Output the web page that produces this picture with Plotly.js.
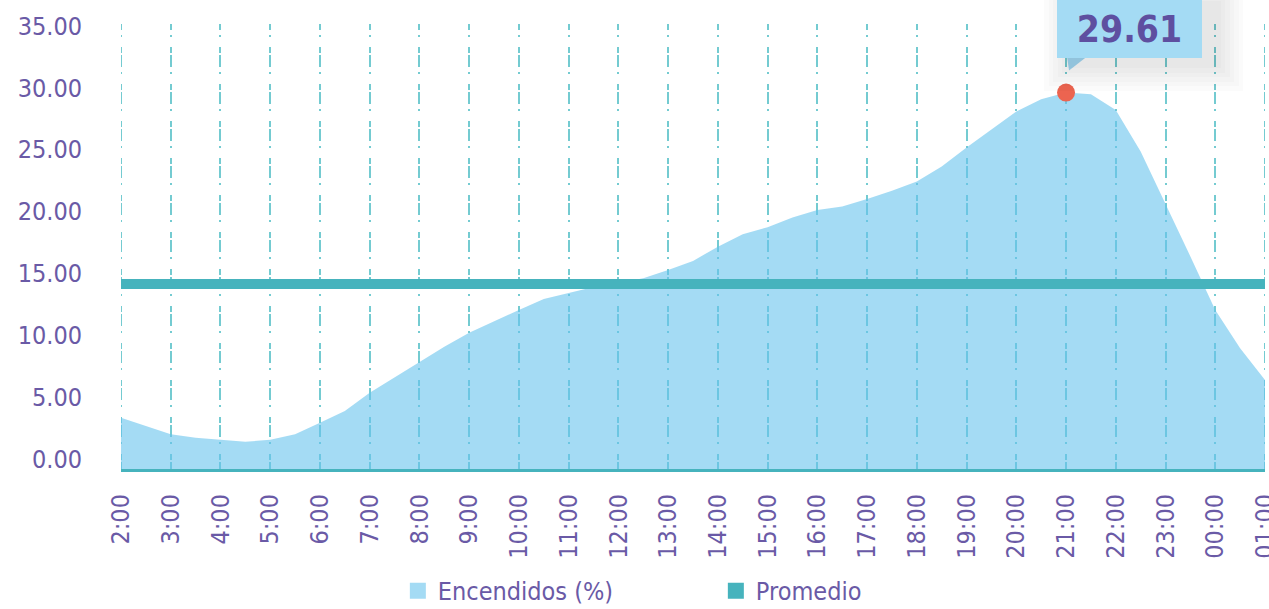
<!DOCTYPE html>
<html>
<head>
<meta charset="utf-8">
<script src="https://cdn.plot.ly/plotly-3.0.1.min.js"></script>
<style>html,body{margin:0;padding:0;background:#fff;}#chart{width:1269px;height:609px;}</style>
</head>
<body>
<div id="chart"></div>
<script>
// Half-hour time slots (x categories)
const timeSlots = ["2:00","2:30","3:00","3:30","4:00","4:30","5:00","5:30","6:00","6:30","7:00","7:30","8:00","8:30","9:00","9:30","10:00","10:30","11:00","11:30","12:00","12:30","13:00","13:30","14:00","14:30","15:00","15:30","16:00","16:30","17:00","17:30","18:00","18:30","19:00","19:30","20:00","20:30","21:00","21:30","22:00","22:30","23:00","23:30","00:00","00:30","01:00"];
// Hour tick labels
const hourTicks = ["2:00","3:00","4:00","5:00","6:00","7:00","8:00","9:00","10:00","11:00","12:00","13:00","14:00","15:00","16:00","17:00","18:00","19:00","20:00","21:00","22:00","23:00","00:00","01:00"];
// Encendidos (%)
const encendidos = [3.34,2.67,2.00,1.72,1.59,1.40,1.56,2.00,2.93,3.88,5.36,6.60,7.90,9.08,10.21,11.16,12.05,12.93,13.44,13.90,14.23,14.61,15.28,16.01,17.16,18.17,18.73,19.51,20.13,20.40,21.02,21.67,22.42,23.63,25.17,26.60,28.08,29.08,29.61,29.48,28.21,24.84,20.67,16.37,12.05,8.95,6.39];
// Promedio
const promedio = 14.15;
// Peak highlight
const peakSlot = "21:00";
const peakValue = 29.61;

const yRange = [-0.8, 35.15];
const purple = "#6a5aa6";
const FONT = "'DejaVu Sans Condensed', 'Liberation Sans Narrow', sans-serif";
const GRID_DASH = "6px,5px,2px,10px,6px,2px,6px,0px";
const GRID_COLOR = "#74cbd1";

const traces = [
  { x: timeSlots, y: timeSlots.map(() => yRange[0]), type: "scatter", mode: "lines",
    line: {width: 0, color: "rgba(0,0,0,0)"}, hoverinfo: "skip", showlegend: false },
  { x: timeSlots, y: encendidos, type: "scatter", mode: "lines", fill: "tonexty",
    fillcolor: "rgba(103,195,237,0.6)", line: {width: 0, color: "rgba(0,0,0,0)"},
    name: "Encendidos (%)", showlegend: false },
  { x: [timeSlots[0], timeSlots[timeSlots.length-1]], y: [promedio, promedio], type: "scatter",
    mode: "lines", line: {width: 10, color: "#46b3bd"}, name: "Promedio", showlegend: false },
  { x: [peakSlot], y: [peakValue], type: "scatter", mode: "markers",
    marker: {size: 18, color: "#ec6450"}, showlegend: false },
  { x: [null], y: [null], type: "scatter", mode: "markers", name: "Encendidos (%)",
    marker: {symbol: "square", size: 16, color: "#a4dbf4"} },
  { x: [null], y: [null], type: "scatter", mode: "markers", name: "Promedio",
    marker: {symbol: "square", size: 16, color: "#46b3bd"} }
];

const edgeGrid = [timeSlots[0], timeSlots[timeSlots.length - 1]].map(v => ({
  type: "line", xref: "x", yref: "paper", x0: v, x1: v, y0: 1, y1: 0,
  line: {color: GRID_COLOR, width: 2, dash: GRID_DASH}, layer: "below"
}));

// soft shadow behind the callout box
const BOX_W = 145, BOX_H = 58;
const shadow = [6, 5, 4, 3, 2, 1].map(i => ({
  x: peakSlot, y: peakValue, xref: "x", yref: "y", text: " ", showarrow: false,
  xanchor: "center", yanchor: "middle",
  xshift: -9 + BOX_W / 2 + 14, yshift: 35 + BOX_H / 2 - 6,
  width: BOX_W + 9 * i, height: BOX_H + 9 * i, borderpad: 0, borderwidth: 0,
  bgcolor: "rgba(0,0,0,0.014)"
}));

const layout = {
  width: 1269, height: 609,
  margin: {l: 121, r: 4, t: 24, b: 140, autoexpand: false},
  paper_bgcolor: "#fff", plot_bgcolor: "#fff",
  font: {family: FONT, color: purple, size: 25},
  showlegend: true,
  legend: {orientation: "h", traceorder: "normal", x: 0.242, xanchor: "left", y: -0.274, yanchor: "middle",
    font: {family: FONT, size: 25, color: purple}, entrywidth: 273, bgcolor: "rgba(0,0,0,0)"},
  xaxis: {
    type: "category", categoryorder: "array", categoryarray: timeSlots,
    range: [0, timeSlots.length - 1], automargin: false,
    tickmode: "array", tickvals: hourTicks, ticktext: hourTicks,
    tickangle: -90, tickfont: {family: FONT, size: 25, color: purple},
    ticklabelstandoff: 12,
    showgrid: true, gridcolor: GRID_COLOR, gridwidth: 2, griddash: GRID_DASH,
    showline: true, linecolor: "#46b3bd", linewidth: 3,
    ticks: "", zeroline: false, layer: "above traces", fixedrange: true
  },
  yaxis: {
    range: yRange, tickmode: "linear", tick0: 0, dtick: 5, tickformat: ".2f", automargin: false,
    tickfont: {family: FONT, size: 25, color: purple},
    showgrid: false, zeroline: false, showline: false, ticks: "",
    ticklabelstandoff: 38, fixedrange: true
  },
  annotations: shadow.concat([{
    x: peakSlot, y: peakValue, xref: "x", yref: "y",
    text: "<b>" + peakValue.toFixed(2) + "</b>", showarrow: false,
    xanchor: "left", yanchor: "bottom", xshift: -9, yshift: 35,
    width: BOX_W, height: BOX_H, borderpad: 0, borderwidth: 0,
    bgcolor: "#a4dbf4", align: "center", valign: "middle",
    font: {family: FONT, size: 37, color: "#5e4fa0"}
  }]),
  shapes: edgeGrid.concat([{
    type: "path", xref: "x", yref: "y", xsizemode: "pixel", ysizemode: "pixel",
    xanchor: peakSlot, yanchor: peakValue,
    path: "M 1 36 L 21 36 L 3 22 Z",
    fillcolor: "#a4dbf4", line: {width: 0}, layer: "above"
  }])
};

Plotly.newPlot("chart", traces, layout, {displayModeBar: false, staticPlot: true});
</script>
</body>
</html>
